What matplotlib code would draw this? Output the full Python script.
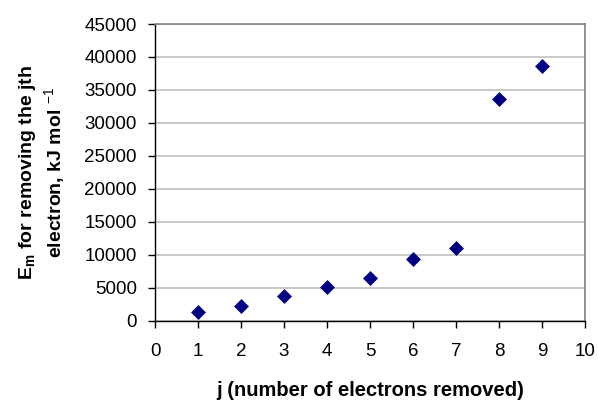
import numpy as np
import matplotlib
matplotlib.use("Agg")
import matplotlib.pyplot as plt

plt.rcParams['font.family'] = ['Liberation Sans', 'DejaVu Sans']
plt.rcParams['mathtext.fontset'] = 'custom'
plt.rcParams['mathtext.rm'] = 'Liberation Sans'
plt.rcParams['mathtext.bf'] = 'Liberation Sans:bold'

# ionisation energies (kJ/mol) for successive electrons
j = [1, 2, 3, 4, 5, 6, 7, 8, 9]
energy = [1251, 2298, 3822, 5158, 6540, 9362, 11018, 33604, 38600]

xticks = list(range(0, 11))
yticks = list(range(0, 45001, 5000))

fig = plt.figure(figsize=(5.98, 4.03), dpi=100)
ax = fig.add_axes([0.2592, 0.2042, 0.7191, 0.7362])

ax.scatter(j, energy, marker='D', s=58, color='#000080', zorder=3, linewidths=0)

ax.set_xlim(0, 10)
ax.set_ylim(0, 45000)
ax.set_xticks(xticks)
ax.set_yticks(yticks)
ax.yaxis.grid(True, color='#c0c0c0', linewidth=1.2)
ax.set_axisbelow(True)

for s in ['top', 'right']:
    ax.spines[s].set_color('#808080')
    ax.spines[s].set_linewidth(1.2)
for s in ['left', 'bottom']:
    ax.spines[s].set_color('black')
    ax.spines[s].set_linewidth(1.0)

ax.tick_params(axis='both', direction='out', length=5, width=1, labelsize=13.5, colors='black')
ax.tick_params(axis='x', pad=11)
ax.tick_params(axis='y', pad=8)

ax.set_xlabel("j (number of electrons removed)", fontsize=14.5, fontweight='bold', labelpad=15.5)
ax.set_ylabel(r"$\mathbf{E_m}$ for removing the jth" + "\n" + r"electron, kJ mol $^{-1}$",
              fontsize=14, fontweight='bold', labelpad=12, linespacing=1.2)

fig.savefig("out.png", dpi=100)
